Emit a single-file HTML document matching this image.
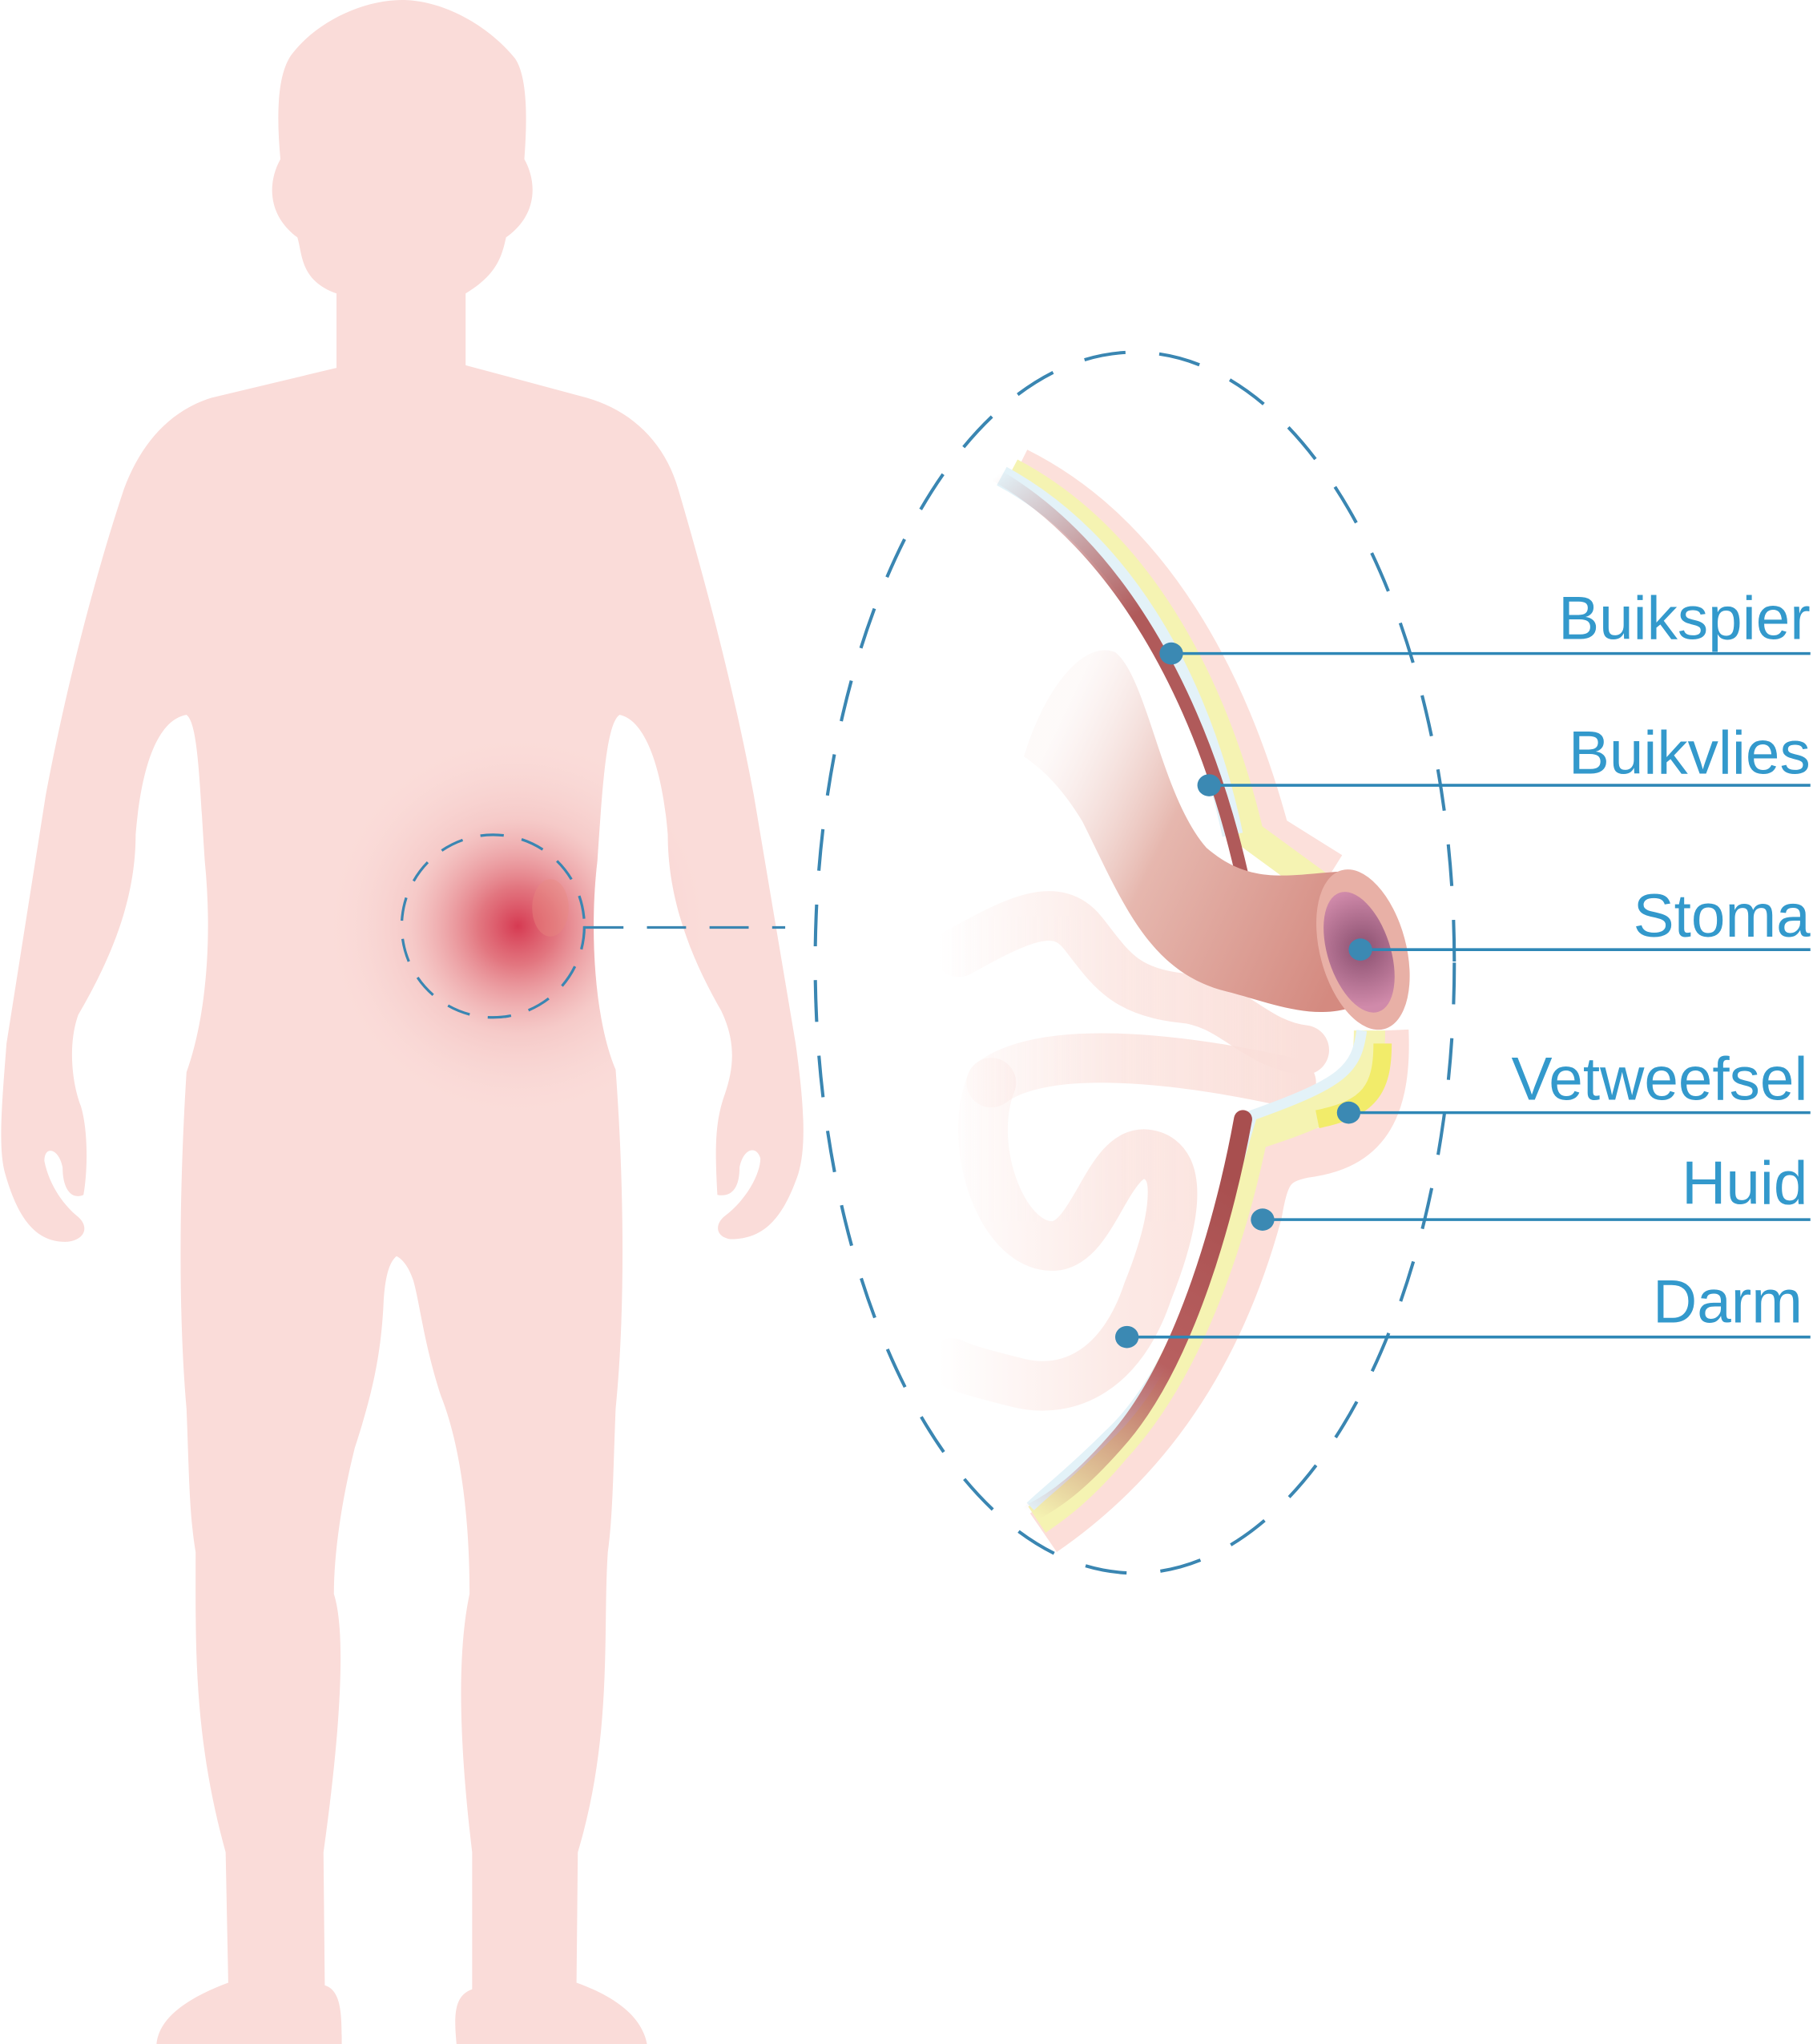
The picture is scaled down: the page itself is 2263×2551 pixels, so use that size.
<!DOCTYPE html>
<html><head><meta charset="utf-8"><style>html,body{margin:0;padding:0;background:#fff}svg{display:block}</style></head>
<body>
<svg width="2263" height="2551" viewBox="0 0 1390 1567" preserveAspectRatio="none" xmlns="http://www.w3.org/2000/svg">
<defs>
<path id="body" d="M258,225 C230,215 232,195 228,182 C205,165 205,140 215,122 C212,90 212,55 225,40 C245,15 280,0 308,0 C340,0 375,20 395,45 C405,60 404,95 402,122 C412,140 412,165 388,182 C385,195 382,210 357,225 L357,280 L450,305 C485,315 510,340 520,375 C545,460 565,540 578,610 L610,800 C617,850 618,880 612,900 C600,935 585,950 560,950 C548,948 548,938 556,932 C572,920 583,900 583,888 C580,878 570,880 567,895 C567,912 560,918 550,916 C548,880 548,860 556,838 C562,820 565,800 553,775 C530,735 512,690 512,640 C508,590 495,552 475,548 C465,555 462,600 458,660 C452,710 455,780 472,820 C478,900 480,1000 472,1080 C470,1130 470,1160 466,1190 C462,1250 470,1330 443,1420 L442,1520 C470,1530 492,1545 496,1567 L350,1567 C348,1545 348,1530 362,1525 L362,1420 C350,1320 352,1260 360,1222 C360,1150 350,1100 338,1070 C325,1030 322,1000 317,982 C313,970 308,965 304,963 C298,968 295,980 294,1000 C292,1040 285,1070 272,1110 C262,1150 256,1190 256,1222 C265,1250 262,1320 248,1420 L249,1522 C262,1526 262,1545 262,1567 L120,1567 C122,1545 148,1530 175,1520 L173,1420 C148,1330 150,1260 150,1190 C145,1160 145,1130 143,1080 C136,1000 138,900 143,822 C158,780 163,720 157,660 C153,600 152,555 143,548 C120,552 108,590 104,640 C104,690 85,735 60,778 C52,800 55,830 62,848 C68,868 67,900 64,916 C55,920 48,912 48,895 C45,880 34,878 34,890 C38,910 50,925 60,933 C68,940 66,950 52,952 C28,953 14,935 4,900 C-2,880 2,840 5,800 L35,610 C48,540 70,450 95,375 C108,340 130,315 162,305 L258,282 Z"/>
<clipPath id="bc"><use href="#body"/></clipPath>
<radialGradient id="glow" cx="397" cy="710" r="150" gradientUnits="userSpaceOnUse">
<stop offset="0" stop-color="#d63a52"/><stop offset="0.2" stop-color="#de6470" stop-opacity="0.85"/><stop offset="0.55" stop-color="#f0b4b4" stop-opacity="0.45"/><stop offset="1" stop-color="#fadcd9" stop-opacity="0"/>
</radialGradient>
<linearGradient id="tube" x1="790" y1="600" x2="1040" y2="720" gradientUnits="userSpaceOnUse">
<stop offset="0" stop-color="#f7e4e1" stop-opacity="0.2"/><stop offset="0.4" stop-color="#e6b7ae"/><stop offset="1" stop-color="#d48a80"/>
</linearGradient>
<linearGradient id="loop" x1="720" y1="0" x2="1000" y2="0" gradientUnits="userSpaceOnUse">
<stop offset="0" stop-color="#fadcd6" stop-opacity="0"/><stop offset="0.5" stop-color="#fadcd6" stop-opacity="0.7"/><stop offset="1" stop-color="#fadcd6"/>
</linearGradient>
<linearGradient id="mus1" x1="770" y1="360" x2="950" y2="600" gradientUnits="userSpaceOnUse">
<stop offset="0" stop-color="#b05a5a" stop-opacity="0"/><stop offset="0.5" stop-color="#b05a5a"/><stop offset="1" stop-color="#b05a5a"/>
</linearGradient>
<linearGradient id="mus2" x1="790" y1="1160" x2="940" y2="900" gradientUnits="userSpaceOnUse">
<stop offset="0" stop-color="#b05a5a" stop-opacity="0"/><stop offset="0.5" stop-color="#b86060"/><stop offset="1" stop-color="#a84f4f"/>
</linearGradient>
<radialGradient id="hole" cx="1045" cy="728" r="45" gradientUnits="userSpaceOnUse">
<stop offset="0" stop-color="#8a5070"/><stop offset="1" stop-color="#d08aaa"/>
</radialGradient>
</defs>
<use href="#body" fill="#fadcd9"/>
<circle cx="397" cy="710" r="150" fill="url(#glow)" clip-path="url(#bc)"/>
<ellipse cx="422" cy="696" rx="14" ry="22" fill="#e98a80" opacity="0.4"/>
<circle cx="378" cy="710" r="70" fill="none" stroke="#3a86b2" stroke-width="2" stroke-dasharray="18 14"/>
<line x1="448" y1="711" x2="602" y2="711" stroke="#3a86b2" stroke-width="2" stroke-dasharray="30 18"/>
<ellipse cx="870" cy="738" rx="245" ry="468" fill="none" stroke="#3a86b2" stroke-width="2.5" stroke-dasharray="32 26"/>
<g fill="none" stroke="url(#loop)" stroke-width="38" stroke-linecap="round" opacity="0.9">
<path d="M735,730 C780,705 810,690 830,715 C850,740 860,760 905,765 C945,768 960,800 1000,805"/>
<path d="M760,830 C800,800 900,810 990,830"/>
<path d="M760,830 C740,880 770,960 810,955 C840,950 850,880 880,885 C910,890 900,940 880,990 C860,1050 820,1070 780,1060 C760,1055 740,1050 730,1045"/>
</g>
<path d="M780,360 C880,410 940,520 972,640 L1020,670" fill="none" stroke="#fbd8d2" stroke-width="34" opacity="0.8"/>
<path d="M775,362 C870,412 930,520 958,640 L1010,678" fill="none" stroke="#f5f3b2" stroke-width="22"/>
<path d="M768,365 C860,415 920,520 945,640" fill="none" stroke="#e3f2f8" stroke-width="16"/>
<path d="M765,365 C855,418 920,530 952,670" fill="none" stroke="url(#mus1)" stroke-width="10" stroke-linecap="round"/>
<path d="M785,580 C800,530 830,490 855,500 C880,520 890,610 925,650 C960,680 990,670 1030,668 L1060,760 C1020,790 980,770 940,760 C880,745 860,690 830,630 C815,605 800,590 785,580 Z" fill="url(#tube)"/>
<ellipse cx="1045" cy="728" rx="33" ry="63" transform="rotate(-15 1045 728)" fill="#e8b0a6"/>
<ellipse cx="1042" cy="730" rx="24" ry="48" transform="rotate(-18 1042 730)" fill="url(#hole)"/>
<path d="M1062,790 C1065,860 1040,880 1000,885 C975,890 970,900 965,930 C935,1040 880,1120 800,1175" fill="none" stroke="#fbd8d2" stroke-width="36" opacity="0.85"/>
<path d="M1050,790 C1050,830 1040,845 960,870 C950,920 920,1040 855,1110 C830,1140 810,1155 795,1165" fill="none" stroke="#f5f3b2" stroke-width="24"/>
<path d="M1060,800 C1060,835 1050,850 1010,858" fill="none" stroke="#f2ec6a" stroke-width="14"/>
<path d="M1044,790 C1040,820 1030,830 960,855 C945,900 915,1040 850,1100 C820,1130 800,1145 790,1155" fill="none" stroke="#e3f2f8" stroke-width="8"/>
<path d="M953,858 C940,930 910,1040 860,1100 C830,1135 810,1150 790,1160" fill="none" stroke="url(#mus2)" stroke-width="14" stroke-linecap="round"/>
<g stroke="#2e87b6" stroke-width="2.2">
<line x1="898" y1="501" x2="1388" y2="501"/><line x1="927" y1="602" x2="1388" y2="602"/>
<line x1="1043" y1="728" x2="1388" y2="728"/><line x1="1034" y1="853" x2="1388" y2="853"/>
<line x1="968" y1="935" x2="1388" y2="935"/><line x1="864" y1="1025" x2="1388" y2="1025"/>
</g>
<g fill="#3b89b3">
<ellipse cx="898" cy="501" rx="9" ry="8.5"/><ellipse cx="927" cy="602" rx="9" ry="8.5"/>
<ellipse cx="1043" cy="728" rx="9" ry="8.5"/><ellipse cx="1034" cy="853" rx="9" ry="8.5"/>
<ellipse cx="968" cy="935" rx="9" ry="8.5"/><ellipse cx="864" cy="1025" rx="9" ry="8.5"/>
</g>
<g font-family="Liberation Sans, sans-serif" font-size="47" fill="#3399cc" text-anchor="end">
<text x="1388" y="490">Buikspier</text><text x="1388" y="593">Buikvlies</text>
<text x="1388" y="718">Stoma</text><text x="1386" y="843">Vetweefsel</text>
<text x="1386" y="923">Huid</text><text x="1382" y="1014">Darm</text>
</g>
</svg>
</body></html>
